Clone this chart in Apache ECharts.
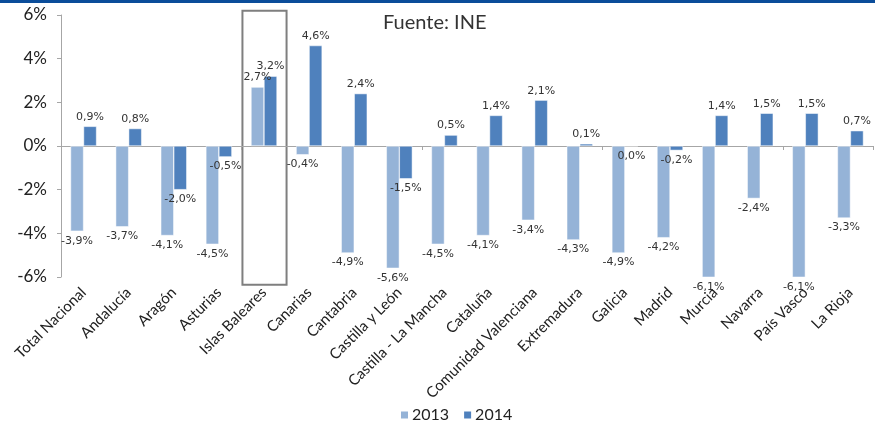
<!DOCTYPE html>
<html>
<head>
<meta charset="utf-8">
<script src="https://cdn.jsdelivr.net/npm/echarts@6/dist/echarts.min.js"></script>
<style>
    html, body {margin: 0; padding: 0; background: #fff;}
    #chart {width: 875px; height: 428px;}
</style>
</head>
<body>
<div id="chart"></div>
<script>
// datos
const regiones = ['Total Nacional', 'Andalucía', 'Aragón', 'Asturias', 'Islas Baleares', 'Canarias',
    'Cantabria', 'Castilla y León', 'Castilla - La Mancha', 'Cataluña', 'Comunidad Valenciana',
    'Extremadura', 'Galicia', 'Madrid', 'Murcia', 'Navarra', 'País Vasco', 'La Rioja'];
const valores2013 = [-3.9, -3.7, -4.1, -4.5, 2.7, -0.4, -4.9, -5.6, -4.5, -4.1, -3.4, -4.3, -4.9, -4.2, -6.1, -2.4, -6.1, -3.3];
const valores2014 = [0.9, 0.8, -2.0, -0.5, 3.2, 4.6, 2.4, -1.5, 0.5, 1.4, 2.1, 0.1, 0.0, -0.2, 1.4, 1.5, 1.5, 0.7];
const yTicks = [-6, -4, -2, 0, 2, 4, 6];
const regionDestacada = 'Islas Baleares';

const fmt = v => v.toFixed(1).replace('.', ',') + '%';

// etiqueta arriba si positivo, abajo si negativo o cero
const toData = arr => arr.map(v => ({
    value: v,
    label: {position: v > 0 ? 'top' : 'bottom'}
}));

const chart = echarts.init(document.getElementById('chart'));

const labelStyle = {
    show: true,
    formatter: p => fmt(p.value),
    fontFamily: 'DejaVu Sans',
    fontSize: 11,
    color: '#333',
    distance: 4
};

const option = {
    animation: false,
    grid: {left: 61, right: 2, top: 15, bottom: 151, containLabel: false},
    legend: {
        data: ['2013', '2014'],
        left: 394,
        bottom: 0,
        itemWidth: 9,
        itemHeight: 9,
        itemGap: 13,
        icon: 'rect',
        textStyle: {fontFamily: 'Lato', fontSize: 16, color: '#222', padding: [0, 0, 0, -2]}
    },
    xAxis: [
        {
            type: 'category',
            data: regiones,
            axisLine: {show: false, onZero: false},
            axisTick: {show: false},
            axisLabel: {
                rotate: 45,
                interval: 0,
                margin: 13,
                fontFamily: 'Lato',
                fontSize: 15,
                color: '#222'
            }
        },
        {
            type: 'category',
            data: regiones,
            position: 'bottom',
            axisLine: {show: true, onZero: true, lineStyle: {color: '#a6a6a6', width: 1}},
            axisTick: {show: true, inside: false, length: 4, lineStyle: {color: '#a6a6a6'}},
            axisLabel: {show: false}
        }
    ],
    yAxis: {
        type: 'value',
        min: yTicks[0],
        max: yTicks[yTicks.length - 1],
        interval: 2,
        axisLine: {show: true, lineStyle: {color: '#a6a6a6'}},
        axisTick: {show: true, length: 4, lineStyle: {color: '#a6a6a6'}},
        splitLine: {show: false},
        axisLabel: {
            formatter: v => v + '%',
            fontFamily: 'Lato',
            fontSize: 17,
            color: '#222',
            margin: 14
        }
    },
    series: [
        {
            name: '2013',
            type: 'bar',
            data: toData(valores2013),
            barWidth: 13,
            barGap: '0%',
            itemStyle: {color: '#95b3d7', borderColor: '#fff', borderWidth: 0.5},
            label: labelStyle
        },
        {
            name: '2014',
            type: 'bar',
            data: toData(valores2014),
            barWidth: 13,
            barGap: '0%',
            itemStyle: {color: '#4f81bd', borderColor: '#fff', borderWidth: 0.5},
            label: labelStyle
        }
    ]
};
chart.setOption(option);

// recuadro de la región destacada y línea azul superior
const idx = regiones.indexOf(regionDestacada);
const bandW = chart.convertToPixel({xAxisIndex: 0}, regiones[1]) - chart.convertToPixel({xAxisIndex: 0}, regiones[0]);
const cx = chart.convertToPixel({xAxisIndex: 0}, regiones[idx]);
const yTop = chart.convertToPixel({yAxisIndex: 0}, 6.2);
const yBot = chart.convertToPixel({yAxisIndex: 0}, -6.35);

chart.setOption({
    graphic: [
        {
            type: 'rect',
            left: 0, top: 0,
            shape: {width: 875, height: 3},
            style: {fill: '#0b4d9a'},
            silent: true
        },
        {
            type: 'rect',
            shape: {x: cx - bandW / 2 + 1, y: yTop, width: bandW - 1, height: yBot - yTop},
            style: {fill: 'none', stroke: '#7f7f7f', lineWidth: 2},
            silent: true
        },
        {
            type: 'text',
            left: 383,
            top: 13,
            style: {text: 'Fuente: INE', font: '20px Lato', fill: '#333'},
            silent: true
        }
    ]
});
</script>
</body>
</html>
